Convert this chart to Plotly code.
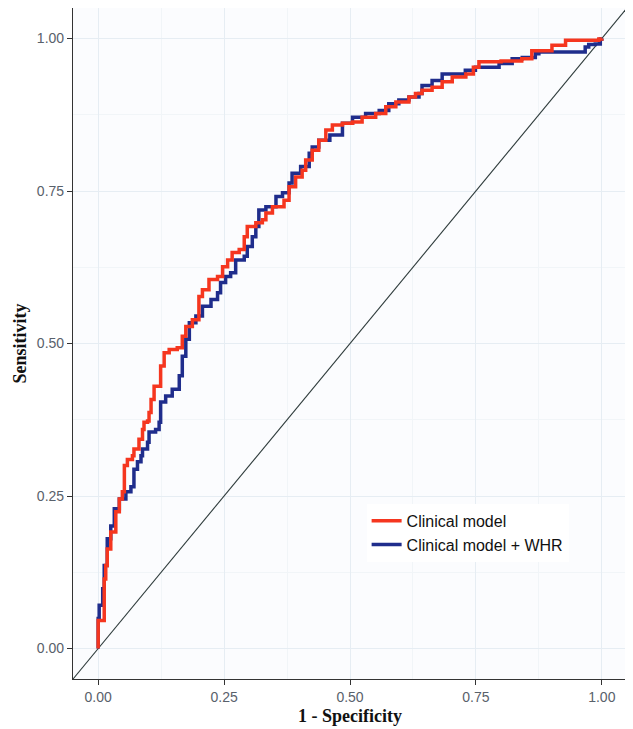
import plotly.graph_objects as go

# Clinical model ROC (1 - specificity, sensitivity)
clin_fpr = [0.0, 0.0, 0.012, 0.015, 0.018, 0.025, 0.035, 0.042, 0.048, 0.052, 0.058, 0.068, 0.071,
            0.081, 0.088, 0.091, 0.098, 0.101, 0.105, 0.111, 0.124, 0.131, 0.141, 0.157, 0.167, 0.174,
            0.187, 0.200, 0.207, 0.220, 0.237, 0.247, 0.257, 0.266, 0.280, 0.290, 0.296, 0.313, 0.326,
            0.333, 0.346, 0.369, 0.379, 0.392, 0.405, 0.412, 0.425, 0.438, 0.452, 0.465, 0.485, 0.505,
            0.524, 0.551, 0.571, 0.591, 0.617, 0.630, 0.643, 0.663, 0.683, 0.703, 0.730, 0.745, 0.756,
            0.800, 0.841, 0.861, 0.901, 0.928, 0.994, 1.0]
clin_tpr = [0.0, 0.046, 0.114, 0.136, 0.163, 0.191, 0.224, 0.245, 0.257, 0.300, 0.310, 0.316, 0.327,
            0.343, 0.359, 0.371, 0.373, 0.387, 0.408, 0.430, 0.463, 0.485, 0.490, 0.493, 0.512, 0.528,
            0.539, 0.577, 0.588, 0.605, 0.610, 0.626, 0.637, 0.649, 0.654, 0.675, 0.692, 0.698, 0.703,
            0.714, 0.724, 0.735, 0.757, 0.773, 0.784, 0.801, 0.817, 0.833, 0.850, 0.858, 0.861, 0.863,
            0.871, 0.877, 0.888, 0.896, 0.904, 0.910, 0.915, 0.920, 0.929, 0.937, 0.942, 0.953, 0.962,
            0.963, 0.967, 0.980, 0.989, 0.997, 0.999, 1.0]

# Clinical model + WHR ROC
whr_fpr = [0.0, 0.0, 0.002, 0.009, 0.012, 0.018, 0.025, 0.032, 0.042, 0.055, 0.065, 0.071, 0.071,
           0.078, 0.085, 0.088, 0.098, 0.101, 0.114, 0.121, 0.124, 0.134, 0.147, 0.161, 0.167, 0.174,
           0.181, 0.194, 0.207, 0.224, 0.237, 0.243, 0.253, 0.263, 0.273, 0.290, 0.296, 0.306, 0.313,
           0.319, 0.333, 0.353, 0.366, 0.379, 0.385, 0.402, 0.419, 0.425, 0.438, 0.460, 0.485, 0.485,
           0.505, 0.531, 0.558, 0.577, 0.597, 0.617, 0.637, 0.643, 0.663, 0.683, 0.723, 0.729, 0.749,
           0.789, 0.796, 0.822, 0.842, 0.868, 0.875, 0.961, 0.967, 0.974, 0.987, 0.997, 1.0]
whr_tpr = [0.0, 0.049, 0.071, 0.098, 0.136, 0.180, 0.201, 0.229, 0.245, 0.257, 0.265, 0.278, 0.294,
           0.306, 0.316, 0.327, 0.338, 0.355, 0.359, 0.371, 0.404, 0.414, 0.425, 0.447, 0.479, 0.507,
           0.534, 0.545, 0.561, 0.572, 0.583, 0.600, 0.610, 0.616, 0.637, 0.643, 0.659, 0.675, 0.692,
           0.719, 0.724, 0.741, 0.747, 0.763, 0.779, 0.790, 0.812, 0.822, 0.833, 0.842, 0.842, 0.861,
           0.871, 0.877, 0.882, 0.893, 0.899, 0.904, 0.910, 0.923, 0.931, 0.942, 0.942, 0.948, 0.953,
           0.953, 0.959, 0.967, 0.969, 0.975, 0.978, 0.978, 0.986, 0.990, 0.991, 0.999, 1.0]

ref_line = [-0.05, 1.05]
tick_vals = [0.0, 0.25, 0.5, 0.75, 1.0]
tick_text = ["0.00", "0.25", "0.50", "0.75", "1.00"]

fig = go.Figure()
fig.add_trace(go.Scatter(x=ref_line, y=ref_line, mode="lines",
                         line=dict(color="#2e3b3b", width=1.1), showlegend=False, hoverinfo="skip"))
fig.add_trace(go.Scatter(x=whr_fpr, y=whr_tpr, mode="lines", name="Clinical model + WHR",
                         line=dict(color="#1f2d8c", width=3.5, shape="hv")))
fig.add_trace(go.Scatter(x=clin_fpr, y=clin_tpr, mode="lines", name="Clinical model",
                         line=dict(color="#f5361f", width=3.5, shape="hv")))

axis_common = dict(
    range=[-0.05, 1.05], tickvals=tick_vals, ticktext=tick_text, automargin=False,
    showgrid=True, gridcolor="#e6edf3", gridwidth=1,
    minor=dict(dtick=0.125, tick0=0.125, showgrid=True, gridcolor="#f1f5f8", gridwidth=0.8),
    zeroline=False, showline=True, mirror=True, linecolor="#333333", linewidth=1.2,
    ticks="outside", ticklen=5, tickcolor="#333333", tickwidth=1,
    tickfont=dict(family="Liberation Sans, Arial", size=14, color="#59616b"),
)

title_font = dict(family="Liberation Serif, Times New Roman", size=18, color="#111111")

fig.update_layout(
    width=625, height=721,
    margin=dict(l=65, r=6, t=0, b=50, autoexpand=False),
    paper_bgcolor="white", plot_bgcolor="#fbfcfe",
    xaxis=dict(**axis_common),
    yaxis=dict(**axis_common),
    legend=dict(x=0.530, y=0.261, xanchor="left", yanchor="top",
                bgcolor="white", borderwidth=0, traceorder="reversed",
                font=dict(family="Liberation Sans, Arial", size=16, color="#111111"),
                itemwidth=30, tracegroupgap=0),
    showlegend=True,
    annotations=[
        dict(text="<b>1 - Specificity</b>", xref="paper", yref="paper", x=0.5, y=-0.055,
             xanchor="center", yanchor="middle", showarrow=False, font=title_font),
        dict(text="<b>Sensitivity</b>", xref="paper", yref="paper", x=-0.0957, y=0.5,
             xanchor="center", yanchor="middle", textangle=-90, showarrow=False, font=title_font),
    ],
)

fig.write_html("out.html")
